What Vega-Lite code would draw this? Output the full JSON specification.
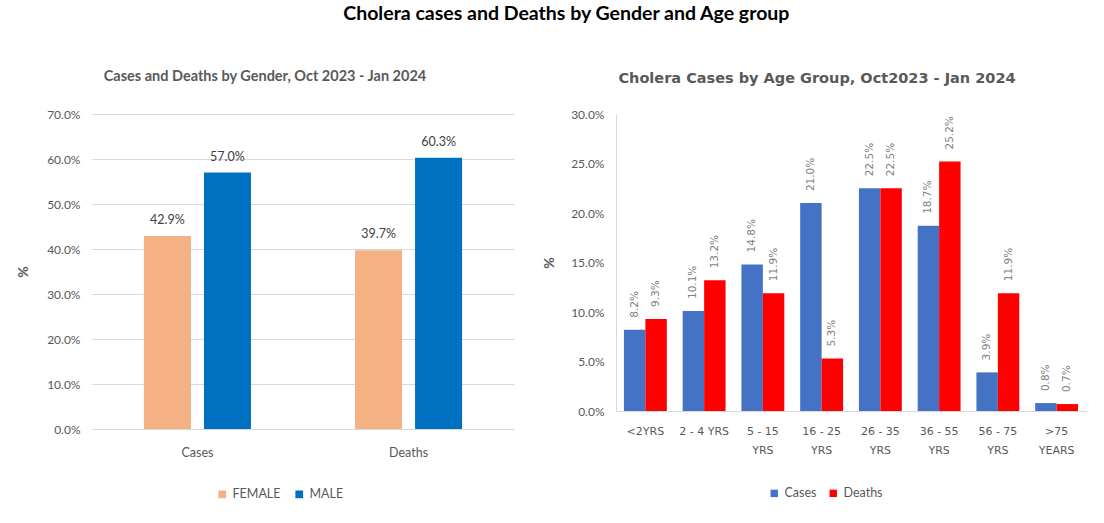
{
  "$schema": "https://vega.github.io/schema/vega-lite/v6.json",
  "background": "white",
  "padding": {"left": 16, "top": 4, "right": 10, "bottom": 5},
  "title": {
    "text": "Cholera cases and Deaths by Gender and Age group",
    "font": "Lato",
    "fontSize": 19.5,
    "fontWeight": "bold",
    "color": "#000000",
    "anchor": "middle",
    "dx": 15,
    "offset": 44
  },
  "datasets": {
    "gender": [
      {"measure": "Cases", "gender": "FEMALE", "value": 0.429},
      {"measure": "Cases", "gender": "MALE", "value": 0.570},
      {"measure": "Deaths", "gender": "FEMALE", "value": 0.397},
      {"measure": "Deaths", "gender": "MALE", "value": 0.603}
    ],
    "age": [
      {"age": "<2YRS", "series": "Cases", "value": 0.082},
      {"age": "<2YRS", "series": "Deaths", "value": 0.093},
      {"age": "2 - 4 YRS", "series": "Cases", "value": 0.101},
      {"age": "2 - 4 YRS", "series": "Deaths", "value": 0.132},
      {"age": "5 - 15 YRS", "series": "Cases", "value": 0.148},
      {"age": "5 - 15 YRS", "series": "Deaths", "value": 0.119},
      {"age": "16 - 25 YRS", "series": "Cases", "value": 0.210},
      {"age": "16 - 25 YRS", "series": "Deaths", "value": 0.053},
      {"age": "26 - 35 YRS", "series": "Cases", "value": 0.225},
      {"age": "26 - 35 YRS", "series": "Deaths", "value": 0.225},
      {"age": "36 - 55 YRS", "series": "Cases", "value": 0.187},
      {"age": "36 - 55 YRS", "series": "Deaths", "value": 0.252},
      {"age": "56 - 75 YRS", "series": "Cases", "value": 0.039},
      {"age": "56 - 75 YRS", "series": "Deaths", "value": 0.119},
      {"age": ">75 YEARS", "series": "Cases", "value": 0.008},
      {"age": ">75 YEARS", "series": "Deaths", "value": 0.007}
    ]
  },
  "hconcat": [
    {
      "width": 422,
      "height": 315,
      "data": {"name": "gender"},
      "title": {
        "text": "Cases and Deaths by  Gender, Oct 2023 - Jan 2024",
        "font": "Lato",
        "fontSize": 14.5,
        "fontWeight": "bold",
        "color": "#595959",
        "anchor": "middle",
        "dx": -38,
        "offset": 24
      },
      "encoding": {
        "x": {
          "field": "measure",
          "type": "nominal",
          "sort": ["Cases", "Deaths"],
          "scale": {"paddingInner": 0.493, "paddingOuter": 0.246},
          "axis": {
            "title": null,
            "labelAngle": 0,
            "domain": true,
            "domainColor": "#D9D9D9",
            "ticks": false,
            "labelPadding": 17,
            "labelFont": "Lato",
            "labelFontSize": 12.5,
            "labelColor": "#595959"
          }
        },
        "xOffset": {
          "field": "gender",
          "type": "nominal",
          "sort": ["FEMALE", "MALE"],
          "scale": {"paddingInner": 0.217}
        },
        "y": {
          "field": "value",
          "type": "quantitative",
          "scale": {"domain": [0, 0.7]},
          "axis": {
            "values": [0, 0.1, 0.2, 0.3, 0.4, 0.5, 0.6, 0.7],
            "format": ".1%",
            "title": "%",
            "titleFont": "Lato",
            "titleFontSize": 14,
            "titleFontWeight": "bold",
            "titleColor": "#595959",
            "titlePadding": 16,
            "domain": false,
            "ticks": false,
            "grid": true,
            "gridColor": "#D9D9D9",
            "labelPadding": 12,
            "labelFont": "Lato",
            "labelFontSize": 12,
            "labelColor": "#595959"
          }
        }
      },
      "layer": [
        {
          "mark": {"type": "bar"},
          "encoding": {
            "color": {
              "field": "gender",
              "type": "nominal",
              "sort": ["FEMALE", "MALE"],
              "scale": {"domain": ["FEMALE", "MALE"], "range": ["#F4B183", "#0070C0"]},
              "legend": {
                "title": null,
                "orient": "none",
                "legendX": 124,
                "legendY": 374,
                "direction": "horizontal",
                "symbolType": "square",
                "symbolSize": 60,
                "symbolStrokeWidth": 0,
                "labelFont": "Lato",
                "labelFontSize": 12.5,
                "labelColor": "#595959",
                "columnPadding": 12
              }
            }
          }
        },
        {
          "mark": {"type": "text", "baseline": "bottom", "dy": -9, "font": "Lato", "fontSize": 12.5, "color": "#404040"},
          "encoding": {
            "text": {"field": "value", "type": "quantitative", "format": ".1%"}
          }
        }
      ]
    },
    {
      "width": 470,
      "height": 297,
      "data": {"name": "age"},
      "title": {
        "text": "Cholera Cases by Age Group, Oct2023 - Jan 2024",
        "font": "DejaVu Sans",
        "fontSize": 14.5,
        "fontWeight": "bold",
        "color": "#595959",
        "anchor": "middle",
        "dx": -34,
        "offset": 22
      },
      "encoding": {
        "x": {
          "field": "age",
          "type": "nominal",
          "sort": ["<2YRS", "2 - 4 YRS", "5 - 15 YRS", "16 - 25 YRS", "26 - 35 YRS", "36 - 55 YRS", "56 - 75 YRS", ">75 YEARS"],
          "scale": {"paddingInner": 0.27, "paddingOuter": 0.135},
          "axis": {
            "title": null,
            "labelAngle": 0,
            "domain": true,
            "domainColor": "#D9D9D9",
            "ticks": false,
            "labelPadding": 14,
            "labelFont": "DejaVu Sans",
            "labelFontSize": 11,
            "labelColor": "#595959",
            "labelLineHeight": 19,
            "labelExpr": "datum.label == '<2YRS' || datum.label == '2 - 4 YRS' ? datum.label : [substring(datum.label, 0, lastindexof(datum.label, ' ')), substring(datum.label, lastindexof(datum.label, ' ') + 1)]"
          }
        },
        "xOffset": {
          "field": "series",
          "type": "nominal",
          "sort": ["Cases", "Deaths"],
          "scale": {"paddingInner": 0}
        },
        "y": {
          "field": "value",
          "type": "quantitative",
          "scale": {"domain": [0, 0.3]},
          "axis": {
            "values": [0, 0.05, 0.1, 0.15, 0.2, 0.25, 0.3],
            "format": ".1%",
            "title": "%",
            "titleFont": "Lato",
            "titleFontSize": 14,
            "titleFontWeight": "bold",
            "titleColor": "#595959",
            "titlePadding": 14,
            "domain": true,
            "domainColor": "#D9D9D9",
            "ticks": false,
            "grid": false,
            "labelPadding": 12,
            "labelFont": "Lato",
            "labelFontSize": 12,
            "labelColor": "#595959"
          }
        }
      },
      "layer": [
        {
          "mark": {"type": "bar"},
          "encoding": {
            "color": {
              "field": "series",
              "type": "nominal",
              "sort": ["Cases", "Deaths"],
              "scale": {"domain": ["Cases", "Deaths"], "range": ["#4472C4", "#FF0000"]},
              "legend": {
                "title": null,
                "orient": "none",
                "legendX": 152,
                "legendY": 373,
                "direction": "horizontal",
                "symbolType": "square",
                "symbolSize": 55,
                "symbolStrokeWidth": 0,
                "labelFont": "Lato",
                "labelFontSize": 12.5,
                "labelColor": "#595959",
                "columnPadding": 10
              }
            }
          }
        },
        {
          "mark": {"type": "text", "angle": 270, "align": "left", "baseline": "middle", "dx": 12, "font": "DejaVu Sans", "fontSize": 10.5, "color": "#7F7F7F"},
          "encoding": {
            "text": {"field": "value", "type": "quantitative", "format": ".1%"}
          }
        }
      ]
    }
  ],
  "spacing": 28,
  "resolve": {"scale": {"color": "independent", "x": "independent", "y": "independent", "xOffset": "independent"}, "legend": {"color": "independent"}},
  "config": {
    "view": {"stroke": null},
    "axis": {"gridWidth": 1}
  }
}
